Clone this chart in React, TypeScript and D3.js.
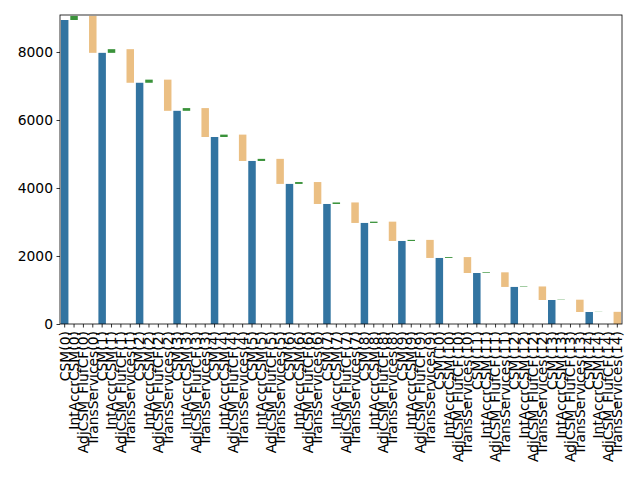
import React, { useEffect, useRef } from 'react';
import * as d3 from 'd3';

// CSM run-off waterfall
const periods = d3.range(15);
const csm = [8941, 7975, 7095, 6270, 5500, 4795, 4120, 3530, 2972, 2442, 1942, 1500, 1090, 706, 353];
const intAccrCSM = [120, 108, 92, 80, 70, 62, 55, 45, 38, 32, 26, 20, 14, 9, 5];
const adjCSMFlufCF = [0, 0, 0, 0, 0, 0, 0, 0, 0, 0, 0, 0, 0, 0, 0];
const transServices = [1086, 988, 917, 850, 775, 737, 645, 603, 568, 532, 468, 430, 398, 362, 358];
const yTicks = [0, 2000, 4000, 6000, 8000];

const W = 640;
const H = 480;
const M = { top: 15, right: 18, bottom: 156, left: 60 };
const FONT = '"DejaVu Sans", sans-serif';
const FS = 13.89;

const colors = { csm: '#3274a1', accr: '#3a923a', adj: '#e1812c', trans: '#ebbf83' };

type Bar = { label: string; y0: number; y1: number; color: string };

function buildBars(): Bar[] {
  const bars: Bar[] = [];
  periods.forEach((p) => {
    const base = csm[p];
    const afterAccr = base + intAccrCSM[p];
    const afterAdj = afterAccr + adjCSMFlufCF[p];
    bars.push({ label: `CSM(${p})`, y0: 0, y1: base, color: colors.csm });
    bars.push({ label: `IntAccrCSM(${p})`, y0: base, y1: afterAccr, color: colors.accr });
    bars.push({ label: `AdjCSM_FlufCF(${p})`, y0: afterAccr, y1: afterAdj, color: colors.adj });
    bars.push({ label: `TransServices(${p})`, y0: afterAdj - transServices[p], y1: afterAdj, color: colors.trans });
  });
  return bars;
}

export default function App() {
  const ref = useRef<SVGSVGElement>(null);

  useEffect(() => {
    const svg = d3.select(ref.current);
    svg.selectAll('*').remove();
    const bars = buildBars();

    const x = d3.scaleBand()
      .domain(bars.map((b) => b.label))
      .range([M.left, W - M.right])
      .paddingInner(0.2)
      .paddingOuter(0.1);
    const y = d3.scaleLinear().domain([0, 9088]).range([H - M.bottom, M.top]);

    svg.append('g')
      .selectAll('rect')
      .data(bars)
      .join('rect')
      .attr('x', (d) => x(d.label)!)
      .attr('width', x.bandwidth())
      .attr('y', (d) => y(Math.max(d.y0, d.y1)))
      .attr('height', (d) => Math.abs(y(d.y0) - y(d.y1)))
      .attr('fill', (d) => d.color);

    // frame
    svg.append('rect')
      .attr('x', M.left)
      .attr('y', M.top)
      .attr('width', W - M.left - M.right)
      .attr('height', H - M.top - M.bottom)
      .attr('fill', 'none')
      .attr('stroke', '#000')
      .attr('stroke-width', 0.8);

    // y axis
    const yAxis = svg.append('g')
      .attr('transform', `translate(${M.left},0)`)
      .call(d3.axisLeft(y).tickValues(yTicks).tickSize(3.5).tickPadding(3.5).tickFormat(d3.format('d')));
    yAxis.select('.domain').remove();
    yAxis.selectAll('line').attr('stroke', '#000').attr('stroke-width', 0.8);
    yAxis.selectAll('text').attr('font-family', FONT).attr('font-size', FS).attr('fill', '#000');

    // x axis, labels rotated like matplotlib rotation=90
    const xAxis = svg.append('g')
      .attr('transform', `translate(0,${H - M.bottom})`)
      .call(d3.axisBottom(x).tickSize(3.5).tickPadding(3.5));
    xAxis.select('.domain').remove();
    xAxis.selectAll('line').attr('stroke', '#000').attr('stroke-width', 0.8);
    xAxis.selectAll('text')
      .attr('font-family', FONT)
      .attr('font-size', FS)
      .attr('fill', '#000')
      .attr('text-anchor', 'end')
      .attr('dy', '0.35em')
      .attr('y', 0)
      .attr('transform', 'translate(0,7) rotate(-90)');
  }, []);

  return (
    <svg ref={ref} width={W} height={H}
      style={{ position: 'absolute', left: 0, top: 0, background: '#fff' }} />
  );
}
